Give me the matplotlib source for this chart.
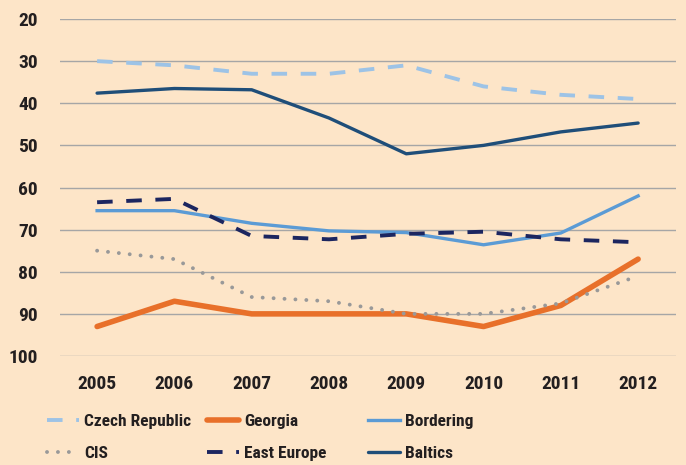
import numpy as np
import matplotlib.pyplot as plt
from matplotlib import font_manager as fm

years = [2005, 2006, 2007, 2008, 2009, 2010, 2011, 2012]
czech = [30, 31, 33, 33, 31, 36, 38, 39]
georgia = [93, 87, 90, 90, 90, 93, 88, 77]
bordering = [65.5, 65.5, 68.5, 70.3, 70.7, 73.6, 70.8, 62]
cis = [75, 77, 86, 87, 90, 90, 87.5, 81]
east_europe = [63.5, 62.7, 71.5, 72.3, 71, 70.5, 72.3, 73]
baltics = [37.6, 36.5, 36.8, 43.5, 52, 50, 46.8, 44.7]

bg = '#FDE5C8'
names = set(f.name for f in fm.fontManager.ttflist)
family = 'DejaVu Sans'
for cand in ['Roboto Condensed', 'Liberation Sans Narrow', 'Open Sans Condensed']:
    if cand in names:
        family = cand
        break
plt.rcParams['font.family'] = [family, 'DejaVu Sans']
plt.rcParams['font.stretch'] = 'condensed'
plt.rcParams['font.weight'] = 'bold'
narrow = family != 'DejaVu Sans'
fs = 14 if narrow else 13
lfs = 12.5 if narrow else 11

fig = plt.figure(figsize=(6.86, 4.65), dpi=100, facecolor=bg)
ax = fig.add_axes([60/686, 1-356/465, 616/686, 337/465], facecolor=bg)

l1, = ax.plot(years, czech, color='#9DC3E6', lw=2.8, dashes=(4, 3.5), label='Czech Republic')
l2, = ax.plot(years, georgia, color='#E8702A', lw=4.0, solid_capstyle='round', label='Georgia')
l3, = ax.plot(years, bordering, color='#5B9BD5', lw=2.4, label='Bordering')
l4, = ax.plot(years, cis, color='#999999', lw=2.8, dashes=(0.01, 2.8), dash_capstyle='round', label='CIS')
l5, = ax.plot(years, east_europe, color='#1C2660', lw=2.8, dashes=(4, 3.5), label='East Europe')
l6, = ax.plot(years, baltics, color='#1F4E79', lw=2.4, solid_capstyle='round', label='Baltics')

ax.set_ylim(100, 20)
ax.set_xlim(2004.52, 2012.49)
ax.set_yticks(np.arange(20, 101, 10))
ax.set_xticks(years)
ax.grid(axis='y', color='#A6A6A6', lw=1)
ax.set_axisbelow(True)
for s in ax.spines.values():
    s.set_visible(False)
ax.tick_params(length=0, labelsize=fs, colors='#231F20')
ax.tick_params(axis='y', pad=16)
ax.tick_params(axis='x', pad=14)

# one legend per column so the columns sit at fixed places
cols = [([l1, l4], ['Czech Republic', 'CIS'], 47),
        ([l2, l5], ['Georgia', 'East Europe'], 207),
        ([l3, l6], ['Bordering', 'Baltics'], 368)]
for hs, labs, x0 in cols:
    fig.legend(hs, labs, loc='lower left', bbox_to_anchor=(x0/686, 4/465),
               frameon=False, fontsize=lfs, handlelength=32/(lfs*100/72),
               handletextpad=0.3, labelspacing=(34/(lfs*100/72)) - 1.0,
               borderpad=0, borderaxespad=0, labelcolor='#231F20')

fig.savefig('out.png', dpi=100, facecolor=bg)
